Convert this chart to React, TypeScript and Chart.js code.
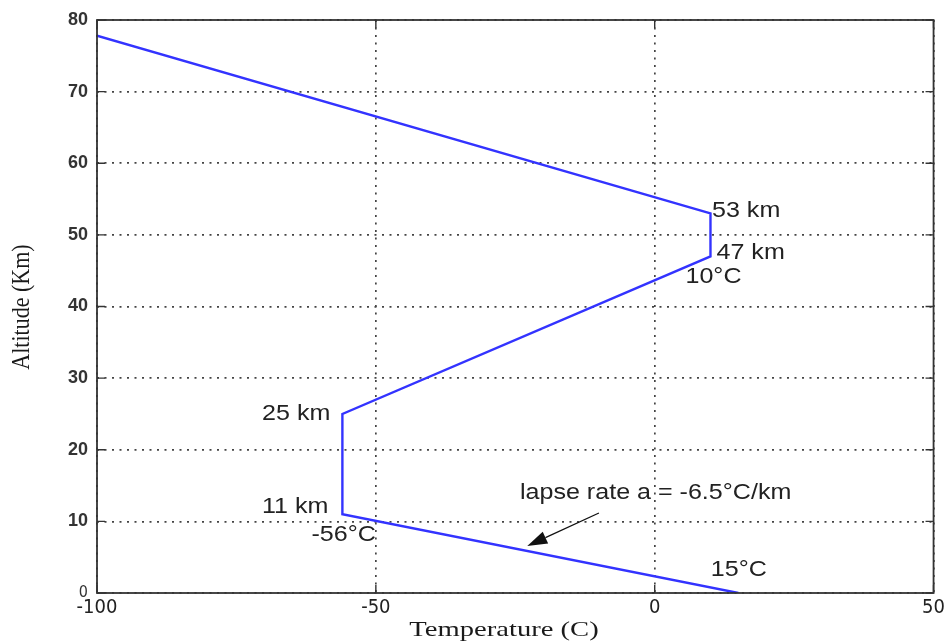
import React, { useEffect, useRef } from "react";
import { Chart, registerables } from "chart.js";

Chart.register(...registerables);

// Temperature profile of the standard atmosphere
const temperatures = [15, -56, -56, 10, 10, -100];
const altitudes = [0, 11, 25, 47, 53, 77.8];

const xTicks = [-100, -50, 0, 50];
const yTicks = [0, 10, 20, 30, 40, 50, 60, 70, 80];

const xTitle = "Temperature (C)";
const yTitle = "Altitude (Km)";

// annotation texts and their anchor points (data coordinates)
const noteTexts = ["53 km", "47 km", "10°C", "25 km", "11 km", "-56°C", "15°C", "lapse rate a = -6.5°C/km"];
const noteAnchorX = [10, 10, 10, -56, -56, -56, 15, -10];
const noteAnchorY = [53, 47, 47, 25, 11, 11, 0, 11.17];

// arrow: tail and tip (data coordinates)
const arrowTail = { x: -10, y: 11.17 };
const arrowTip = { x: -22.85, y: 6.56 };

export default function App() {
  const canvasRef = useRef<HTMLCanvasElement | null>(null);

  useEffect(() => {
    document.body.style.margin = "0";
    const canvas = canvasRef.current;
    if (!canvas) return;

    // pixel offsets and alignment for annotations
    const noteOffsets: [number, number, CanvasTextAlign][] = [
      [1.5, -2, "left"],
      [6, -3, "left"],
      [-25, 21, "left"],
      [-12, 0, "right"],
      [-14, -7, "right"],
      [-31, 21, "left"],
      [-27.5, -23, "left"],
      [-79, -20, "left"],
    ];

    const framePlugin = {
      id: "frame",
      afterDraw(chart: any) {
        const { ctx, chartArea, scales } = chart;
        const xs = scales.x;
        const ys = scales.y;
        const { left, right, top, bottom } = chartArea;
        ctx.save();
        // box
        ctx.strokeStyle = "#333";
        ctx.lineWidth = 1.8;
        ctx.setLineDash([]);
        ctx.strokeRect(left, top, right - left, bottom - top);
        // inward tick marks
        ctx.lineWidth = 1.4;
        const tl = 8;
        ctx.beginPath();
        yTicks.forEach((v) => {
          const py = ys.getPixelForValue(v);
          ctx.moveTo(left, py);
          ctx.lineTo(left + tl, py);
          ctx.moveTo(right, py);
          ctx.lineTo(right - tl, py);
        });
        xTicks.forEach((v) => {
          const px = xs.getPixelForValue(v);
          ctx.moveTo(px, bottom);
          ctx.lineTo(px, bottom - tl);
          ctx.moveTo(px, top);
          ctx.lineTo(px, top + tl);
        });
        ctx.stroke();

        // annotations
        ctx.fillStyle = "#222";
        ctx.font = '22px "Liberation Sans", Arial, sans-serif';
        ctx.textBaseline = "middle";
        noteTexts.forEach((t, i) => {
          const px = xs.getPixelForValue(noteAnchorX[i]) + noteOffsets[i][0];
          const py = ys.getPixelForValue(noteAnchorY[i]) + noteOffsets[i][1];
          ctx.save();
          ctx.translate(px, py);
          ctx.scale(1.14, 1);
          ctx.textAlign = noteOffsets[i][2];
          ctx.fillText(t, 0, 0);
          ctx.restore();
        });

        // arrow
        const tx = xs.getPixelForValue(arrowTail.x);
        const ty = ys.getPixelForValue(arrowTail.y);
        const hx = xs.getPixelForValue(arrowTip.x);
        const hy = ys.getPixelForValue(arrowTip.y);
        const ang = Math.atan2(hy - ty, hx - tx);
        const headLen = 20;
        const headW = 6.5;
        const bx = hx - headLen * Math.cos(ang);
        const by = hy - headLen * Math.sin(ang);
        ctx.strokeStyle = "#111";
        ctx.lineWidth = 1.3;
        ctx.beginPath();
        ctx.moveTo(tx, ty);
        ctx.lineTo(bx, by);
        ctx.stroke();
        ctx.fillStyle = "#111";
        ctx.beginPath();
        ctx.moveTo(hx, hy);
        ctx.lineTo(bx + headW * Math.sin(ang), by - headW * Math.cos(ang));
        ctx.lineTo(bx - headW * Math.sin(ang), by + headW * Math.cos(ang));
        ctx.closePath();
        ctx.fill();

        // axis titles
        ctx.fillStyle = "#1a1a1a";
        ctx.font = '22px "Liberation Serif", "Times New Roman", serif';
        ctx.textAlign = "center";
        ctx.textBaseline = "middle";
        ctx.save();
        ctx.translate(504, 630);
        ctx.scale(1.3, 1);
        ctx.fillText(xTitle, 0, 0);
        ctx.restore();
        ctx.save();
        ctx.translate(22, 307);
        ctx.rotate(-Math.PI / 2);
        ctx.scale(1, 1.15);
        ctx.fillText(yTitle, 0, 0);
        ctx.restore();
        ctx.restore();
      },
    };

    const chart = new Chart(canvas, {
      type: "line",
      data: {
        datasets: [
          {
            data: temperatures.map((t, i) => ({ x: t, y: altitudes[i] })),
            borderColor: "#3333ff",
            borderWidth: 2.4,
            pointRadius: 0,
            tension: 0,
            fill: false,
          },
        ],
      },
      options: {
        responsive: false,
        animation: false,
        layout: { padding: { left: 0, top: 20, right: 12, bottom: 0 } },
        plugins: {
          legend: { display: false },
          tooltip: { enabled: false },
          title: { display: false },
        },
        scales: {
          x: {
            type: "linear",
            min: -100,
            max: 50,
            afterBuildTicks: (scale: any) => {
              scale.ticks = xTicks.map((v) => ({ value: v }));
            },
            afterFit: (scale: any) => {
              scale.height = 51;
            },
            grid: {
              color: "#444",
              lineWidth: 1.7,
              drawTicks: false,
            },
            border: { display: false, dash: [2, 5.5] },
            ticks: {
              padding: 3,
              color: "#222",
              font: { family: '"Liberation Sans Narrow", "DejaVu Sans Condensed", sans-serif', size: 20 },
              maxRotation: 0,
            },
          },
          y: {
            type: "linear",
            min: 0,
            max: 80,
            afterBuildTicks: (scale: any) => {
              scale.ticks = yTicks.map((v) => ({ value: v }));
            },
            afterFit: (scale: any) => {
              scale.width = 97;
            },
            grid: {
              color: "#444",
              lineWidth: 1.7,
              drawTicks: false,
            },
            border: { display: false, dash: [2, 5.5] },
            ticks: {
              padding: 9,
              color: "#333",
              font: (ctx: any) =>
                ctx.tick && ctx.tick.value === 0
                  ? { family: '"Liberation Sans Narrow", "DejaVu Sans Condensed", sans-serif', size: 16 }
                  : { family: '"Liberation Sans", Arial, sans-serif', size: 18, weight: "bold" },
            },
          },
        },
      },
      plugins: [framePlugin],
    });

    return () => chart.destroy();
  }, []);

  return (
    <div style={{ width: 948, height: 644, background: "#fff" }}>
      <canvas ref={canvasRef} width={948} height={644} />
    </div>
  );
}
